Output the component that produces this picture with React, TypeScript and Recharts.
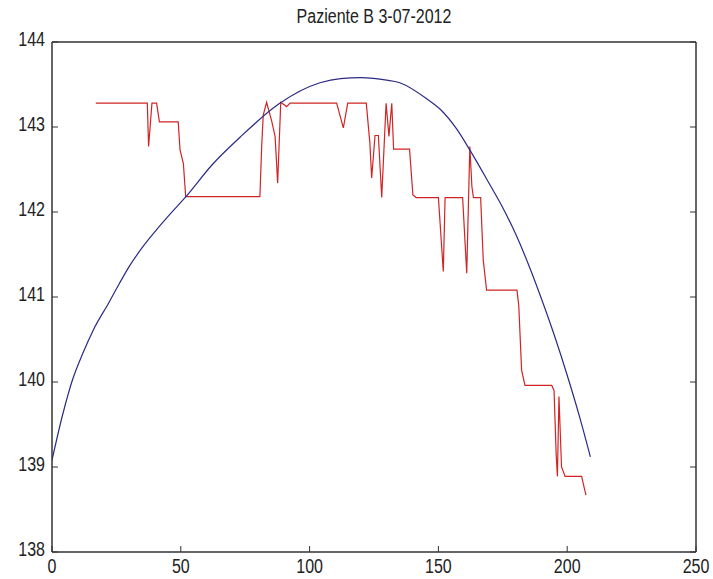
import { LineChart, Line, XAxis, YAxis } from "recharts";

// measured sodium trace (red)
const redX = [
  17, 37, 37.5, 38.8, 40.6, 41.7, 49, 49.7, 51, 51.9, 80.7, 81.4, 82, 83.3, 85.2,
  86.6, 87.6, 88.8, 91.1, 92.4, 110.5, 113.1, 114.8, 122, 123.4, 124.1, 125.4,
  126.7, 128, 129.7, 130.8, 131.9, 132.6, 138.8, 140.1, 141.4, 150, 151.9, 152.6,
  159.4, 161, 162.2, 163, 163.6, 166.4, 167.4, 168.7, 180.5, 181.2, 182.3, 183.6,
  194, 194.9, 195.7, 196.2, 196.8, 197.8, 199.2, 205.6, 206.5, 207.3,
];
const redY = [
  143.28, 143.28, 142.77, 143.28, 143.28, 143.06, 143.06, 142.73, 142.57, 142.18,
  142.18, 142.77, 143.14, 143.29, 143.08, 142.89, 142.34, 143.29, 143.24, 143.28,
  143.28, 142.99, 143.28, 143.28, 142.81, 142.4, 142.9, 142.9, 142.17, 143.28,
  142.89, 143.28, 142.74, 142.74, 142.2, 142.17, 142.17, 141.3, 142.17, 142.17,
  141.28, 142.77, 142.3, 142.17, 142.17, 141.44, 141.08, 141.08, 140.9, 140.14,
  139.96, 139.96, 139.9, 139.16, 138.89, 139.83, 139.0, 138.89, 138.89, 138.77,
  138.67,
];

// fitted curve (blue)
const blueX = [
  0, 4, 8, 12, 16, 22, 26, 30, 35, 40, 46, 52, 62, 73, 88, 104, 112, 120, 128, 135,
  146, 151, 157, 162, 170, 175, 180, 185, 190, 195, 200, 205, 209,
];
const blueY = [
  139.08, 139.6, 140.03, 140.34, 140.61, 140.93, 141.15, 141.36, 141.58, 141.77,
  141.98, 142.18, 142.55, 142.88, 143.27, 143.52, 143.57, 143.58, 143.56, 143.52,
  143.32, 143.2, 142.98, 142.74, 142.32, 142.05, 141.74, 141.38, 140.98, 140.55,
  140.08, 139.57, 139.12,
];

const xTicks = [0, 50, 100, 150, 200, 250];
const yTicks = [138, 139, 140, 141, 142, 143, 144];

const title = "Paziente B 3-07-2012";

const FONT = "'Liberation Sans', Arial, sans-serif";
const AXIS = "#333";
const TICK = 6;
const SQUEEZE = 0.8;

const toPoints = (xs: number[], ys: number[]) => xs.map((x, i) => ({ x, y: ys[i] }));

const redData = toPoints(redX, redY);
const blueData = toPoints(blueX, blueY);

// narrow text, like the old plotting font
const Label = ({ x, y, anchor, children }: any) => (
  <g transform={`translate(${x},${y}) scale(${SQUEEZE},1)`}>
    <text x={0} y={0} textAnchor={anchor} fontSize={20} fontFamily={FONT} fill="#222">
      {children}
    </text>
  </g>
);

const BottomTick = ({ x, y, payload }: any) => (
  <g>
    <line x1={x} x2={x} y1={y} y2={y - TICK} stroke={AXIS} />
    <Label x={x} y={y + 21} anchor="middle">
      {payload.value}
    </Label>
  </g>
);

const TopTick = ({ x, y }: any) => <line x1={x} x2={x} y1={y} y2={y + TICK} stroke={AXIS} />;

const LeftTick = ({ x, y, payload }: any) => (
  <g>
    <line x1={x} x2={x + TICK} y1={y} y2={y} stroke={AXIS} />
    <Label x={x - 7} y={y + 4} anchor="end">
      {payload.value}
    </Label>
  </g>
);

const RightTick = ({ x, y }: any) => <line x1={x} x2={x - TICK} y1={y} y2={y} stroke={AXIS} />;

const axisLine = { stroke: AXIS, strokeWidth: 1.5 };

export default function App() {
  return (
    <div style={{ position: "absolute", left: 0, top: 0, width: 713, height: 579, background: "#fff" }}>
      <svg width={713} height={40} style={{ position: "absolute", left: 0, top: 0 }}>
        <Label x={374} y={23} anchor="middle">
          {title}
        </Label>
      </svg>
      <div style={{ position: "absolute", left: 0, top: 0 }}>
        <LineChart width={713} height={579} margin={{ top: 41, right: 0, bottom: 0, left: 0 }}>
          <XAxis
            dataKey="x"
            type="number"
            domain={[0, 250]}
            ticks={xTicks}
            height={27}
            tickSize={0}
            tickMargin={0}
            tickLine={false}
            tick={BottomTick}
            axisLine={axisLine}
            allowDataOverflow
          />
          <XAxis
            xAxisId="top"
            orientation="top"
            type="number"
            domain={[0, 250]}
            ticks={xTicks}
            height={1}
            tickSize={0}
            tickMargin={0}
            tickLine={false}
            tick={TopTick}
            axisLine={axisLine}
            allowDataOverflow
          />
          <YAxis
            type="number"
            domain={[138, 144]}
            ticks={yTicks}
            width={52}
            tickSize={0}
            tickMargin={0}
            tickLine={false}
            tick={LeftTick}
            axisLine={axisLine}
            allowDataOverflow
          />
          <YAxis
            yAxisId="right"
            orientation="right"
            type="number"
            domain={[138, 144]}
            ticks={yTicks}
            width={17}
            tickSize={0}
            tickMargin={0}
            tickLine={false}
            tick={RightTick}
            axisLine={axisLine}
            allowDataOverflow
          />
          <Line
            data={redData}
            dataKey="y"
            type="linear"
            stroke="#d02424"
            strokeWidth={1.2}
            dot={false}
            activeDot={false}
            isAnimationActive={false}
          />
          <Line
            data={blueData}
            dataKey="y"
            type="monotone"
            stroke="#2a2a86"
            strokeWidth={1.2}
            dot={false}
            activeDot={false}
            isAnimationActive={false}
          />
        </LineChart>
      </div>
    </div>
  );
}
